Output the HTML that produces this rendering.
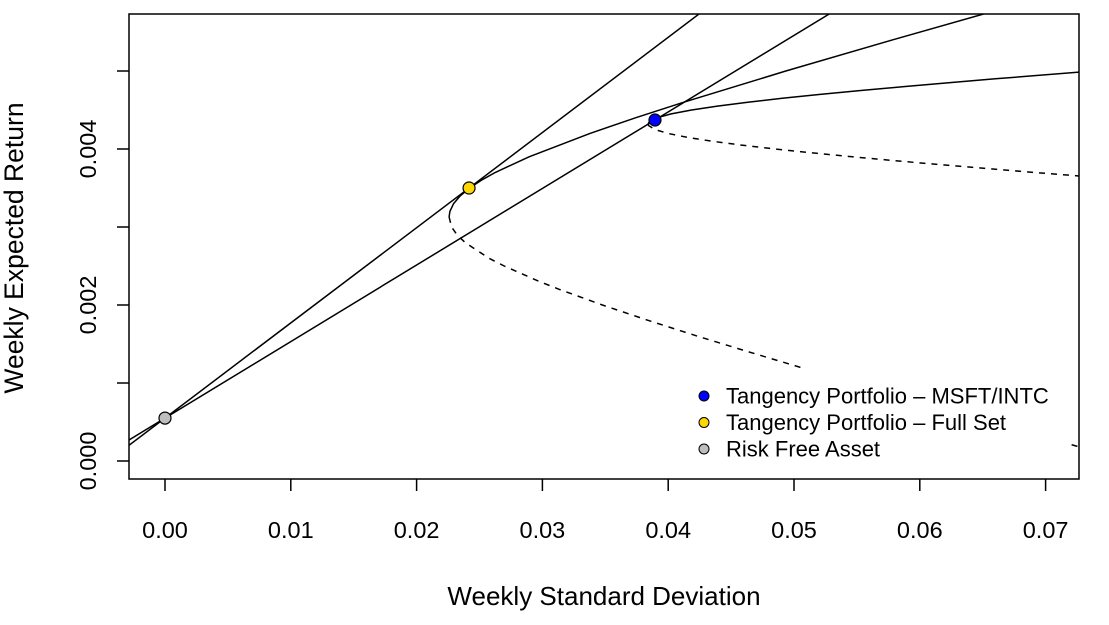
<!DOCTYPE html>
<html><head><meta charset="utf-8"><style>
html,body{margin:0;padding:0;background:#fff;}
svg{display:block;font-family:"Liberation Sans",sans-serif;}
</style></head><body>
<svg id="chart" width="1109" height="625">
<defs><clipPath id="clip"><rect x="129" y="14" width="950" height="465"/></clipPath></defs>
<g id="marks" clip-path="url(#clip)"></g>
<rect x="129" y="14" width="950" height="465" fill="none" stroke="#000" stroke-width="1.5"/>
<g id="axes"></g>
<text x="604" y="605" text-anchor="middle" font-size="26">Weekly Standard Deviation</text>
<text transform="translate(23,248) rotate(-90)" text-anchor="middle" font-size="26.5">Weekly Expected Return</text>
</svg>
<script>
const xTicks=[0,0.01,0.02,0.03,0.04,0.05,0.06,0.07];
const xTickLabels=["0.00","0.01","0.02","0.03","0.04","0.05","0.06","0.07"];
const yTicks=[0,0.001,0.002,0.003,0.004,0.005];
const yTickLabels=["0.000","","0.002","","0.004",""];
const fullMu=[0.0058,0.0054,0.0050,0.0046,0.0044,0.0042,0.0039,0.0037,0.0036,0.0035,0.0034,0.0033,0.0032,0.003128,0.0030,0.0029,0.0028,0.0026,0.0025,0.0023,0.0022,0.0020,0.0018,0.0016,0.0014,0.0012,0.0010,0.0008,0.0006,0.0002,0.0000];
const fullSd=[0.06658,0.05785,0.04935,0.04124,0.03740,0.03378,0.02894,0.02626,0.02515,0.02421,0.02347,0.02294,0.02265,0.02258,0.02278,0.02321,0.02386,0.02575,0.02696,0.02978,0.03135,0.03477,0.03846,0.04234,0.04638,0.05052,0.05475,0.05906,0.06341,0.07225,0.07672];
const fullMinVarMu=0.003128;
const twoMu=[0.0051,0.0050,0.0049,0.00485,0.0048,0.00475,0.0047,0.00465,0.0046,0.00455,0.0045,0.00445,0.0044,0.00438,0.00435,0.00432,0.0043,0.00425,0.0042,0.00415,0.0041,0.00405,0.0040,0.00395,0.0039,0.00385,0.0038,0.0037,0.0036];
const twoSd=[0.08178,0.07374,0.06601,0.0623,0.05873,0.05531,0.05208,0.04907,0.04633,0.04391,0.04186,0.04024,0.03911,0.0388,0.0385,0.0384,0.03845,0.03894,0.03998,0.0415,0.04347,0.04582,0.0485,0.05146,0.05465,0.05803,0.06158,0.06905,0.07692];
const twoMinVarMu=0.00432;
const riskFree=[0,0.00055];
const tanFull=[0.02417,0.0035];
const tanTwo=[0.03895,0.004372];
const legendLabels=["Tangency Portfolio – MSFT/INTC","Tangency Portfolio – Full Set","Risk Free Asset"];
const legendColors=["#0000ff","#ffd700","#bebebe"];

const NS="http://www.w3.org/2000/svg";
const X=v=>165+v*12580, Y=v=>461-v*78000;
const marks=document.getElementById('marks'), axes=document.getElementById('axes'), svg=document.getElementById('chart');
function mk(tag,attrs,parent){const e=document.createElementNS(NS,tag);for(const k in attrs)e.setAttribute(k,attrs[k]);parent.appendChild(e);return e;}
function curve(sd,mu,cut,name){
  const up=[],lo=[];
  for(let i=0;i<sd.length;i++){const p=X(sd[i]).toFixed(1)+","+Y(mu[i]).toFixed(1);if(mu[i]>=cut)up.push(p);if(mu[i]<=cut)lo.push(p);}
  const a=mk('polyline',{points:up.join(' '),fill:'none',stroke:'#000','stroke-width':1.5,'stroke-linejoin':'round'},marks);
  
  
  const b=mk('polyline',{points:lo.join(' '),fill:'none',stroke:'#000','stroke-width':1.5,'stroke-dasharray':'6,6'},marks);
  
  
}
curve(fullSd,fullMu,fullMinVarMu,'full-set-frontier');
curve(twoSd,twoMu,twoMinVarMu,'msft-intc-frontier');
function cal(t,name){
  const s=(t[1]-riskFree[1])/(t[0]-riskFree[0]);
  const x0=-0.01,x1=0.1;
  const l=mk('line',{x1:X(x0),y1:Y(riskFree[1]+s*(x0-riskFree[0])),x2:X(x1),y2:Y(riskFree[1]+s*(x1-riskFree[0])),stroke:'#000','stroke-width':1.5},marks);
  
  
}
cal(tanFull,'cal-full-set');
cal(tanTwo,'cal-msft-intc');
const lb=mk('rect',{x:690,y:368,width:380,height:94,fill:'#fff'},marks);


const pts=[tanTwo,tanFull,riskFree];
const ptNames=['tangency-point-msft-intc','tangency-point-full-set','risk-free-point'];
for(let i=0;i<pts.length;i++){
  const c=mk('circle',{cx:X(pts[i][0]),cy:Y(pts[i][1]),r:6,fill:legendColors[i],stroke:'#000','stroke-width':1.2},svg);
  
  
}
for(let i=0;i<legendLabels.length;i++){
  const y=396+i*26.5;
  const c=mk('circle',{cx:704,cy:y,r:5,fill:legendColors[i],stroke:'#000','stroke-width':1},svg);
  
  
  const t=mk('text',{x:726,y:y+7.5,'font-size':22},svg);t.textContent=legendLabels[i];
  
  
}
for(let i=0;i<xTicks.length;i++){
  const x=X(xTicks[i]);
  const l=mk('line',{x1:x,y1:479,x2:x,y2:491,stroke:'#000','stroke-width':1.5},axes);
  
  
  const t=mk('text',{x:x,y:538,'text-anchor':'middle','font-size':23.5},axes);t.textContent=xTickLabels[i];
  
  
}
for(let i=0;i<yTicks.length;i++){
  const y=Y(yTicks[i]);
  const l=mk('line',{x1:117,y1:y,x2:129,y2:y,stroke:'#000','stroke-width':1.5},axes);
  
  
  if(yTickLabels[i]){
    const t=mk('text',{transform:`translate(96,${y}) rotate(-90)`,'text-anchor':'middle','font-size':23.5},axes);t.textContent=yTickLabels[i];
    
    
  }
}
</script>
</body></html>
